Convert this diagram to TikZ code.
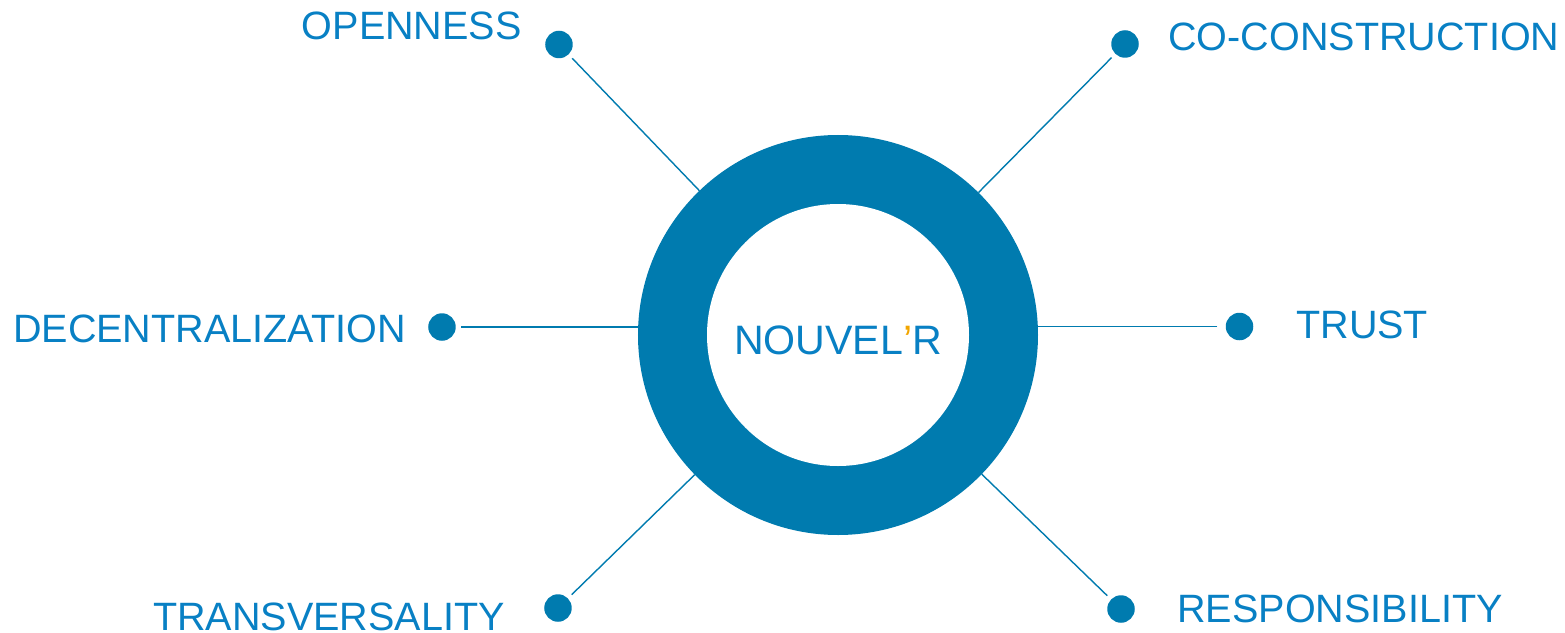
\documentclass[tikz,border=0pt]{standalone}
\usepackage{fontspec}
\setmainfont{Liberation Sans}
\definecolor{ringblue}{RGB}{0, 123, 175}
\definecolor{textblue}{RGB}{8, 128, 196}
\definecolor{accentorange}{RGB}{242, 166, 0}
\usepackage{tikz}
\usetikzlibrary{positioning, calc}
\newcommand{\valuefont}{\fontsize{22.5}{27}\selectfont}
\tikzset{
    valuedot/.style={circle, fill=ringblue, minimum size=0.55cm, inner sep=0pt},
    valuetext/.style={font=\valuefont, text=textblue, inner sep=0pt},
    link/.style={line width=0.8pt, draw=ringblue, shorten <=0.1cm},
    ring/.style={circle, fill=ringblue, minimum size=8cm, inner sep=0pt, outer sep=0pt},
    hole/.style={circle, fill=white, minimum size=5.24cm, inner sep=0pt}
}

\begin{document}
\begin{tikzpicture}
    \useasboundingbox (-16.76,-5.94) rectangle (14.54,6.7);

    % Ring
    \node[ring] (ring) at (0, 0) {};
    \node[hole] (hole) at (0, 0) {};
    \node[valuetext, anchor=base, font=\fontsize{23.4}{28}\selectfont] (name) at (0, -0.38) {NOUVEL{\color{accentorange}’}R};

    % Dots
    \node[valuedot] (open) at (-5.58, 5.81) {};
    \node[valuedot] (cocon) at (5.74, 5.82) {};
    \node[valuedot] (decen) at (-7.92, 0.16) {};
    \node[valuedot] (trust) at (8.03, 0.17) {};
    \node[valuedot] (trans) at (-5.60, -5.46) {};
    \node[valuedot] (resp) at (5.66, -5.48) {};

    % Values
    \node[valuetext, anchor=base east] (opentext) at (-6.32, 5.90) {OPENNESS};
    \node[valuetext, anchor=base west] (cocontext) at (6.60, 5.68) {CO-CONSTRUCTION};
    \node[valuetext, anchor=base east] (decentext) at (-8.64, -0.14) {DECENTRALIZATION};
    \node[valuetext, anchor=base west] (trusttext) at (9.16, -0.06) {TRUST};
    \node[valuetext, anchor=base east] (transtext) at (-6.66, -5.90) {TRANSVERSALITY};
    \node[valuetext, anchor=base west] (resptext) at (6.78, -5.74) {RESPONSIBILITY};

    % Links
    \draw[link] (open) -- (ring);
    \draw[link] (cocon) -- (ring);
    \draw[link] (decen) -- (decen -| ring.west);
    \draw[link, shorten <=0.16cm] (trust) -- (trust -| ring.east);
    \draw[link] (trans) -- (ring);
    \draw[link] (resp) -- (ring);
\end{tikzpicture}
\end{document}
